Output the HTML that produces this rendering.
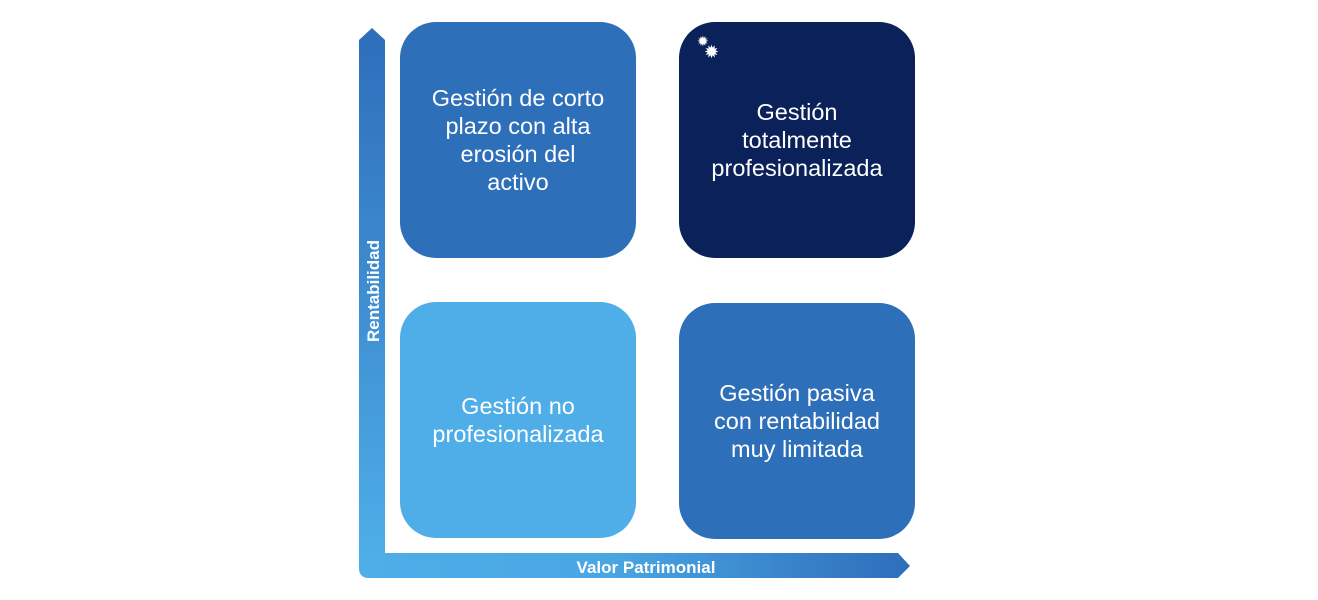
<!DOCTYPE html>
<html><head><meta charset="utf-8"><style>
body{margin:0;width:1318px;height:600px;background:#fff;overflow:hidden;position:relative;font-family:"Liberation Sans",sans-serif}
.b{position:absolute;width:236px;height:236px;border-radius:36px;color:#fff;display:flex;align-items:center;justify-content:center;text-align:center;font-size:23.5px;line-height:28px}
</style></head><body>
<svg width="1318" height="600" style="position:absolute;left:0;top:0">
<defs>
<linearGradient id="v" x1="0" y1="1" x2="0" y2="0"><stop offset="0" stop-color="#4eaee8"/><stop offset="1" stop-color="#2e6dba"/></linearGradient>
<linearGradient id="h" x1="0" y1="0" x2="1" y2="0"><stop offset="0" stop-color="#4eaee8"/><stop offset="0.45" stop-color="#4aa6e3"/><stop offset="1" stop-color="#2e6dba"/></linearGradient>
</defs>
<path d="M359,40 L372,28 L385,40 L385,560 L359,560 Z" fill="url(#v)"/>
<path d="M385,553 L898,553 L910,566 L898,578 L369,578 Q359,578 359,568 L359,553 Z" fill="url(#h)"/>
<text x="646" y="573" font-family="Liberation Sans" font-size="17" font-weight="bold" fill="#fff" text-anchor="middle">Valor Patrimonial</text>
<text transform="translate(379,291) rotate(-90)" font-family="Liberation Sans" font-size="17" font-weight="bold" fill="#fff" text-anchor="middle">Rentabilidad</text>
</svg>
<div class="b" style="left:400px;top:22px;background:#2e6fba">Gestión de corto<br>plazo con alta<br>erosión del<br>activo</div>
<div class="b" style="left:679px;top:22px;background:#0b2159">Gestión<br>totalmente<br>profesionalizada</div>
<div style="position:absolute;left:697px;top:36px;color:#fff;font-size:14px;line-height:11px">✹<br><span style="margin-left:7px;font-size:18px">✹</span></div>
<div class="b" style="left:400px;top:302px;background:#4faee8">Gestión no<br>profesionalizada</div>
<div class="b" style="left:679px;top:303px;background:#2e6fba">Gestión pasiva<br>con rentabilidad<br>muy limitada</div>
</body></html>
